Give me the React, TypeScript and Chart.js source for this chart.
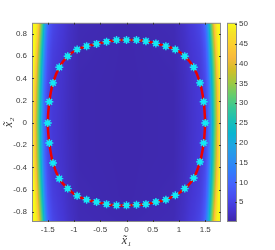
import { useEffect, useRef } from "react";
import { Chart, registerables } from "chart.js";
Chart.register(...registerables);

// ---- axis ticks ----
const xTicks = [-1.5, -1, -0.5, 0, 0.5, 1, 1.5];
const yTicks = [-0.8, -0.6, -0.4, -0.2, 0, 0.2, 0.4, 0.6, 0.8];
const cbTicks = [5, 10, 15, 20, 25, 30, 35, 40, 45, 50];
const cMin = 0;
const cMax = 50.3;

// ---- boundary points (x̃1, x̃2) ----
const pathX = [1.5, 1.47, 1.4, 1.28, 1.11, 0.93, 0.75, 0.56, 0.37, 0.19, 0.0, -0.19, -0.38, -0.57, -0.76, -0.94, -1.12, -1.28, -1.4, -1.47,
  -1.5, -1.47, -1.4, -1.28, -1.12, -0.94, -0.76, -0.57, -0.38, -0.19, 0.0, 0.19, 0.37, 0.56, 0.75, 0.93, 1.11, 1.28, 1.4, 1.47];
const pathY = [0.0, 0.19, 0.36, 0.5, 0.6, 0.66, 0.69, 0.715, 0.735, 0.745, 0.745, 0.745, 0.73, 0.71, 0.69, 0.66, 0.6, 0.5, 0.36, 0.19,
  0.0, -0.18, -0.36, -0.5, -0.59, -0.655, -0.69, -0.71, -0.73, -0.74, -0.74, -0.735, -0.73, -0.71, -0.69, -0.65, -0.59, -0.495, -0.35, -0.18];

// ---- background field: samples at |x̃1| (columns) for several |x̃2| rows ----
const heatAbsX = [0, 0.9, 1.1, 1.2, 1.3, 1.4, 1.45, 1.5, 1.55, 1.575, 1.6, 1.625, 1.65, 1.675, 1.7, 1.725, 1.75, 1.775, 1.8];
const heatAbsY = [0, 0.3, 0.5, 0.65, 0.8, 0.9];
const heatAtY00 = [0.4, 0.6, 1.5, 2.2, 2.8, 3.4, 4.0, 5.0, 8, 11, 15, 20, 25, 30, 34, 39, 44, 48, 50];
const heatAtY30 = [0.4, 0.6, 1.6, 2.3, 2.9, 3.5, 4.2, 5.5, 9, 12, 17, 22, 27, 32, 36, 41, 45, 49, 50];
const heatAtY50 = [0.4, 0.7, 1.7, 2.5, 3.1, 3.8, 5.0, 6.5, 11, 15, 20, 25, 30, 34, 39, 44, 48, 50, 50];
const heatAtY65 = [0.4, 0.8, 1.9, 2.7, 3.4, 4.3, 5.5, 7.5, 13, 18, 23, 28, 33, 37, 42, 47, 50, 50, 50];
const heatAtY80 = [0.5, 0.9, 2.1, 3.0, 3.8, 5.0, 6.5, 9, 16, 21, 27, 32, 36, 41, 46, 49, 50, 50, 50];
const heatAtY90 = [0.6, 1.0, 2.3, 3.3, 4.2, 5.5, 7, 11, 18, 24, 30, 34, 39, 44, 48, 50, 50, 50, 50];
const heatRows = [heatAtY00, heatAtY30, heatAtY50, heatAtY65, heatAtY80, heatAtY90];

// parula colormap anchors
const parula: [number, number, number, number][] = [
  [0 / 63, 62, 38, 168], [4 / 63, 69, 55, 213], [8 / 63, 72, 77, 240], [12 / 63, 69, 99, 253],
  [16 / 63, 50, 124, 252], [20 / 63, 43, 145, 239], [24 / 63, 32, 165, 227], [28 / 63, 8, 181, 208],
  [32 / 63, 25, 191, 182], [36 / 63, 55, 200, 151], [40 / 63, 100, 205, 111], [44 / 63, 157, 201, 67],
  [48 / 63, 209, 191, 39], [52 / 63, 248, 186, 61], [56 / 63, 252, 207, 48], [60 / 63, 245, 227, 39],
  [63 / 63, 249, 251, 21],
];

function colorOf(v: number): [number, number, number] {
  let t = (v - cMin) / (cMax - cMin);
  t = Math.max(0, Math.min(1, t));
  for (let i = 0; i < parula.length - 1; i++) {
    const a = parula[i], b = parula[i + 1];
    if (t <= b[0]) {
      const f = (t - a[0]) / (b[0] - a[0]);
      return [a[1] + (b[1] - a[1]) * f, a[2] + (b[2] - a[2]) * f, a[3] + (b[3] - a[3]) * f];
    }
  }
  const l = parula[parula.length - 1];
  return [l[1], l[2], l[3]];
}

function locate(arr: number[], v: number): [number, number] {
  if (v <= arr[0]) return [0, 0];
  if (v >= arr[arr.length - 1]) return [arr.length - 2, 1];
  for (let i = 0; i < arr.length - 1; i++) {
    if (v <= arr[i + 1]) return [i, (v - arr[i]) / (arr[i + 1] - arr[i])];
  }
  return [arr.length - 2, 1];
}

function fieldAt(x: number, y: number): number {
  const [i, fx] = locate(heatAbsX, Math.abs(x));
  const [j, fy] = locate(heatAbsY, Math.abs(y));
  const r0 = heatRows[j], r1 = heatRows[j + 1];
  const a = r0[i] + (r0[i + 1] - r0[i]) * fx;
  const b = r1[i] + (r1[i + 1] - r1[i]) * fx;
  return a + (b - a) * fy;
}

const frameColor = "#8c8c8c";
const tickColor = "#3a3a3a";
const tickFont = { family: "'Liberation Sans', Arial, sans-serif", size: 8 };
const titleFont = { family: "'Liberation Serif', 'DejaVu Serif', serif", size: 12, style: "italic" as const };

const heatPlugin = {
  id: "heatField",
  beforeDatasetsDraw(chart: any) {
    const { ctx, chartArea: a, scales } = chart;
    const xs = scales.x, ys = scales.y;
    const w = Math.round(a.right - a.left), h = Math.round(a.bottom - a.top);
    const off = document.createElement("canvas");
    off.width = w; off.height = h;
    const octx = off.getContext("2d")!;
    const img = octx.createImageData(w, h);
    for (let j = 0; j < h; j++) {
      const yv = ys.getValueForPixel(a.top + j + 0.5);
      for (let i = 0; i < w; i++) {
        const xv = xs.getValueForPixel(a.left + i + 0.5);
        const c = colorOf(fieldAt(xv, yv));
        const k = (j * w + i) * 4;
        img.data[k] = c[0]; img.data[k + 1] = c[1]; img.data[k + 2] = c[2]; img.data[k + 3] = 255;
      }
    }
    octx.putImageData(img, 0, 0);
    ctx.drawImage(off, a.left, a.top);
  },
  afterDraw(chart: any) {
    const { ctx, chartArea: a, scales } = chart;
    const xs = scales.x, ys = scales.y, cs = scales.y2;
    ctx.save();
    // axes frame
    ctx.strokeStyle = frameColor;
    ctx.lineWidth = 1;
    ctx.strokeRect(a.left + 0.5, a.top + 0.5, a.right - a.left - 1, a.bottom - a.top - 1);
    // inward ticks
    ctx.strokeStyle = tickColor;
    ctx.beginPath();
    for (const v of xTicks) {
      const px = Math.round(xs.getPixelForValue(v)) + 0.5;
      ctx.moveTo(px, a.bottom); ctx.lineTo(px, a.bottom - 2);
      ctx.moveTo(px, a.top); ctx.lineTo(px, a.top + 2);
    }
    for (const v of yTicks) {
      const py = Math.round(ys.getPixelForValue(v)) + 0.5;
      ctx.moveTo(a.left, py); ctx.lineTo(a.left + 2, py);
      ctx.moveTo(a.right, py); ctx.lineTo(a.right - 2, py);
    }
    ctx.stroke();
    // colorbar
    const cbL = a.right + 6, cbR = a.right + 16;
    for (let py = Math.round(a.top); py < Math.round(a.bottom); py++) {
      const c = colorOf(cs.getValueForPixel(py + 0.5));
      ctx.fillStyle = `rgb(${c[0]},${c[1]},${c[2]})`;
      ctx.fillRect(cbL, py, cbR - cbL, 1);
    }
    ctx.strokeStyle = frameColor;
    ctx.strokeRect(cbL + 0.5, a.top + 0.5, cbR - cbL - 1, a.bottom - a.top - 1);
    ctx.strokeStyle = tickColor;
    ctx.beginPath();
    for (const v of cbTicks) {
      const py = Math.round(cs.getPixelForValue(v)) + 0.5;
      ctx.moveTo(cbR, py); ctx.lineTo(cbR - 2, py);
    }
    ctx.stroke();
    ctx.restore();
  },
};

export default function App() {
  const ref = useRef<HTMLCanvasElement>(null);
  useEffect(() => {
    if (!ref.current) return;
    const pts = pathX.map((x, i) => ({ x, y: pathY[i] }));
    const closed = [...pts, pts[0]];
    const chart = new Chart(ref.current, {
      type: "scatter",
      data: {
        datasets: [
          {
            data: pts,
            pointStyle: "star",
            pointRadius: 4,
            pointBorderWidth: 1.4,
            pointBorderColor: "rgb(20,232,246)",
            pointBackgroundColor: "rgb(20,232,246)",
            showLine: false,
          },
          {
            data: pts,
            pointStyle: "circle",
            pointRadius: 2.6,
            pointBorderWidth: 0,
            pointBackgroundColor: "rgb(20,232,246)",
            showLine: false,
          },
          {
            data: closed,
            showLine: true,
            borderColor: "rgb(235,0,0)",
            borderWidth: 2.5,
            tension: 0.4,
            pointRadius: 0,
            fill: false,
          },
        ],
      } as any,
      options: {
        responsive: false,
        animation: false,
        devicePixelRatio: 1,
        events: [],
        layout: { padding: { top: 18, left: 0, right: 0, bottom: 0 } },
        plugins: { legend: { display: false }, tooltip: { enabled: false } },
        scales: {
          x: {
            type: "linear",
            min: -1.8,
            max: 1.8,
            afterBuildTicks: (s: any) => { s.ticks = xTicks.map((v) => ({ value: v })); },
            afterFit: (s: any) => { s.height = 28; },
            ticks: { callback: (v: any) => String(v), font: tickFont, color: tickColor, padding: 3, maxRotation: 0, autoSkip: false },
            grid: { display: false, drawTicks: false },
            border: { display: false },
            title: { display: true, text: "x\u0303\u2081", font: titleFont, color: "#333", padding: { top: 0, bottom: 2 } },
          },
          y: {
            type: "linear",
            min: -0.89,
            max: 0.9,
            afterBuildTicks: (s: any) => { s.ticks = yTicks.map((v) => ({ value: v })); },
            afterFit: (s: any) => { s.width = 32; },
            ticks: { callback: (v: any) => String(v), font: tickFont, color: tickColor, padding: 5, autoSkip: false },
            grid: { display: false, drawTicks: false },
            border: { display: false },
            title: { display: true, text: "x\u0303\u2082", font: titleFont, color: "#333", padding: { top: 1.5, bottom: 0 } },
          },
          y2: {
            type: "linear",
            position: "right",
            min: cMin,
            max: cMax,
            afterBuildTicks: (s: any) => { s.ticks = cbTicks.map((v) => ({ value: v })); },
            afterFit: (s: any) => { s.width = 54; },
            ticks: { callback: (v: any) => String(v), font: tickFont, color: tickColor, padding: 18, autoSkip: false },
            grid: { display: false, drawTicks: false },
            border: { display: false },
          },
        },
      } as any,
      plugins: [heatPlugin],
    });
    return () => chart.destroy();
  }, []);
  return (
    <div style={{ position: "absolute", left: 0, top: 0, width: 275, height: 250, background: "#fff" }}>
      <canvas ref={ref} width={275} height={250} style={{ display: "block" }} />
    </div>
  );
}
